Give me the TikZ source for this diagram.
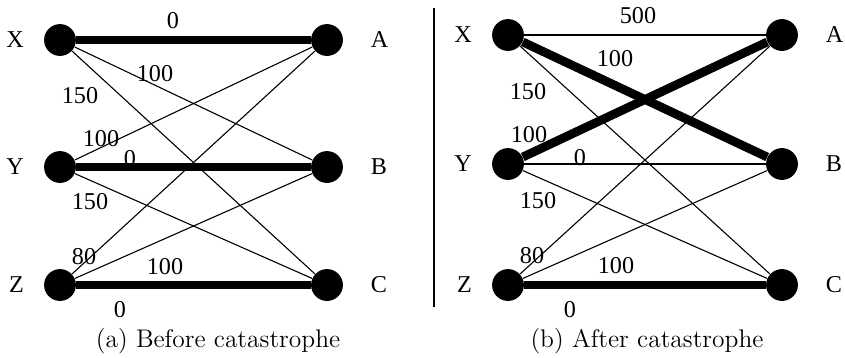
\documentclass[tikz,border=0pt]{standalone}
\usepackage{fontspec}
\newfontfamily\figfont{Liberation Serif}
\begin{document}
\begin{tikzpicture}[
    x=0.016cm, y=-0.016cm,
    every node/.style={font=\figfont\fontsize{11}{13}\selectfont},
    vertex/.style={circle, fill, inner sep=0pt, minimum size=14.5pt},
    wire/.style={line width=0.5pt},
    route/.style={line width=4pt},
    weight/.style={inner sep=0.5pt},
    caption/.style={font=\rmfamily\fontsize{11.6}{14}\selectfont}
]
\useasboundingbox (0,0) rectangle (845,357);
% (a) before the catastrophe
\node[vertex, label={[label distance=5.5pt]left:X}] (aX) at (60,40) {};
\node[vertex, label={[label distance=5.5pt]left:Y}] (aY) at (60,167) {};
\node[vertex, label={[label distance=5.5pt]left:Z}] (aZ) at (60,285) {};
\node[vertex, label={[label distance=9pt]right:A}] (aA) at (327,40) {};
\node[vertex, label={[label distance=9pt]right:B}] (aB) at (327,167) {};
\node[vertex, label={[label distance=9pt]right:C}] (aC) at (327,285) {};
\foreach \s in {X,Y,Z}
  \foreach \t in {A,B,C}
    \draw[wire] (a\s) -- (a\t);
\draw[route] (aX) -- (aA);
\draw[route] (aY) -- (aB);
\draw[route] (aZ) -- (aC);
\node[weight] (aXA) at (173,21) {0};
\node[weight] (aXB) at (155,74) {100};
\node[weight] (aXC) at (80,96) {150};
\node[weight] (aYA) at (101,139) {100};
\node[weight] (aYB) at (130,159) {0};
\node[weight] (aYC) at (90,202) {150};
\node[weight] (aZA) at (84,257) {80};
\node[weight] (aZB) at (165,267) {100};
\node[weight] (aZC) at (120,310) {0};
\node[caption] (capa) at (218,341) {(a) Before catastrophe};
% separator
\coordinate (top) at (434,8);
\coordinate (bot) at (434,307);
\draw[wire] (top) -- (bot);
% (b) after the catastrophe
\node[vertex, label={[label distance=5.5pt]left:X}] (bX) at (508,35) {};
\node[vertex, label={[label distance=5.5pt]left:Y}] (bY) at (508,164) {};
\node[vertex, label={[label distance=5.5pt]left:Z}] (bZ) at (508,285) {};
\node[vertex, label={[label distance=9pt]right:A}] (bA) at (782,35) {};
\node[vertex, label={[label distance=9pt]right:B}] (bB) at (782,164) {};
\node[vertex, label={[label distance=9pt]right:C}] (bC) at (782,285) {};
\foreach \s in {X,Y,Z}
  \foreach \t in {A,B,C}
    \draw[wire] (b\s) -- (b\t);
\draw[route] (bX) -- (bB);
\draw[route] (bY) -- (bA);
\draw[route] (bZ) -- (bC);
\node[weight] (bXA) at (638,16) {500};
\node[weight] (bXB) at (615,59) {100};
\node[weight] (bXC) at (528,92) {150};
\node[weight] (bYA) at (529,135) {100};
\node[weight] (bYB) at (580,158) {0};
\node[weight] (bYC) at (538,201) {150};
\node[weight] (bZA) at (532,256) {80};
\node[weight] (bZB) at (616,266) {100};
\node[weight] (bZC) at (570,310) {0};
\node[caption] (capb) at (647,341) {(b) After catastrophe};
\end{tikzpicture}
\end{document}
